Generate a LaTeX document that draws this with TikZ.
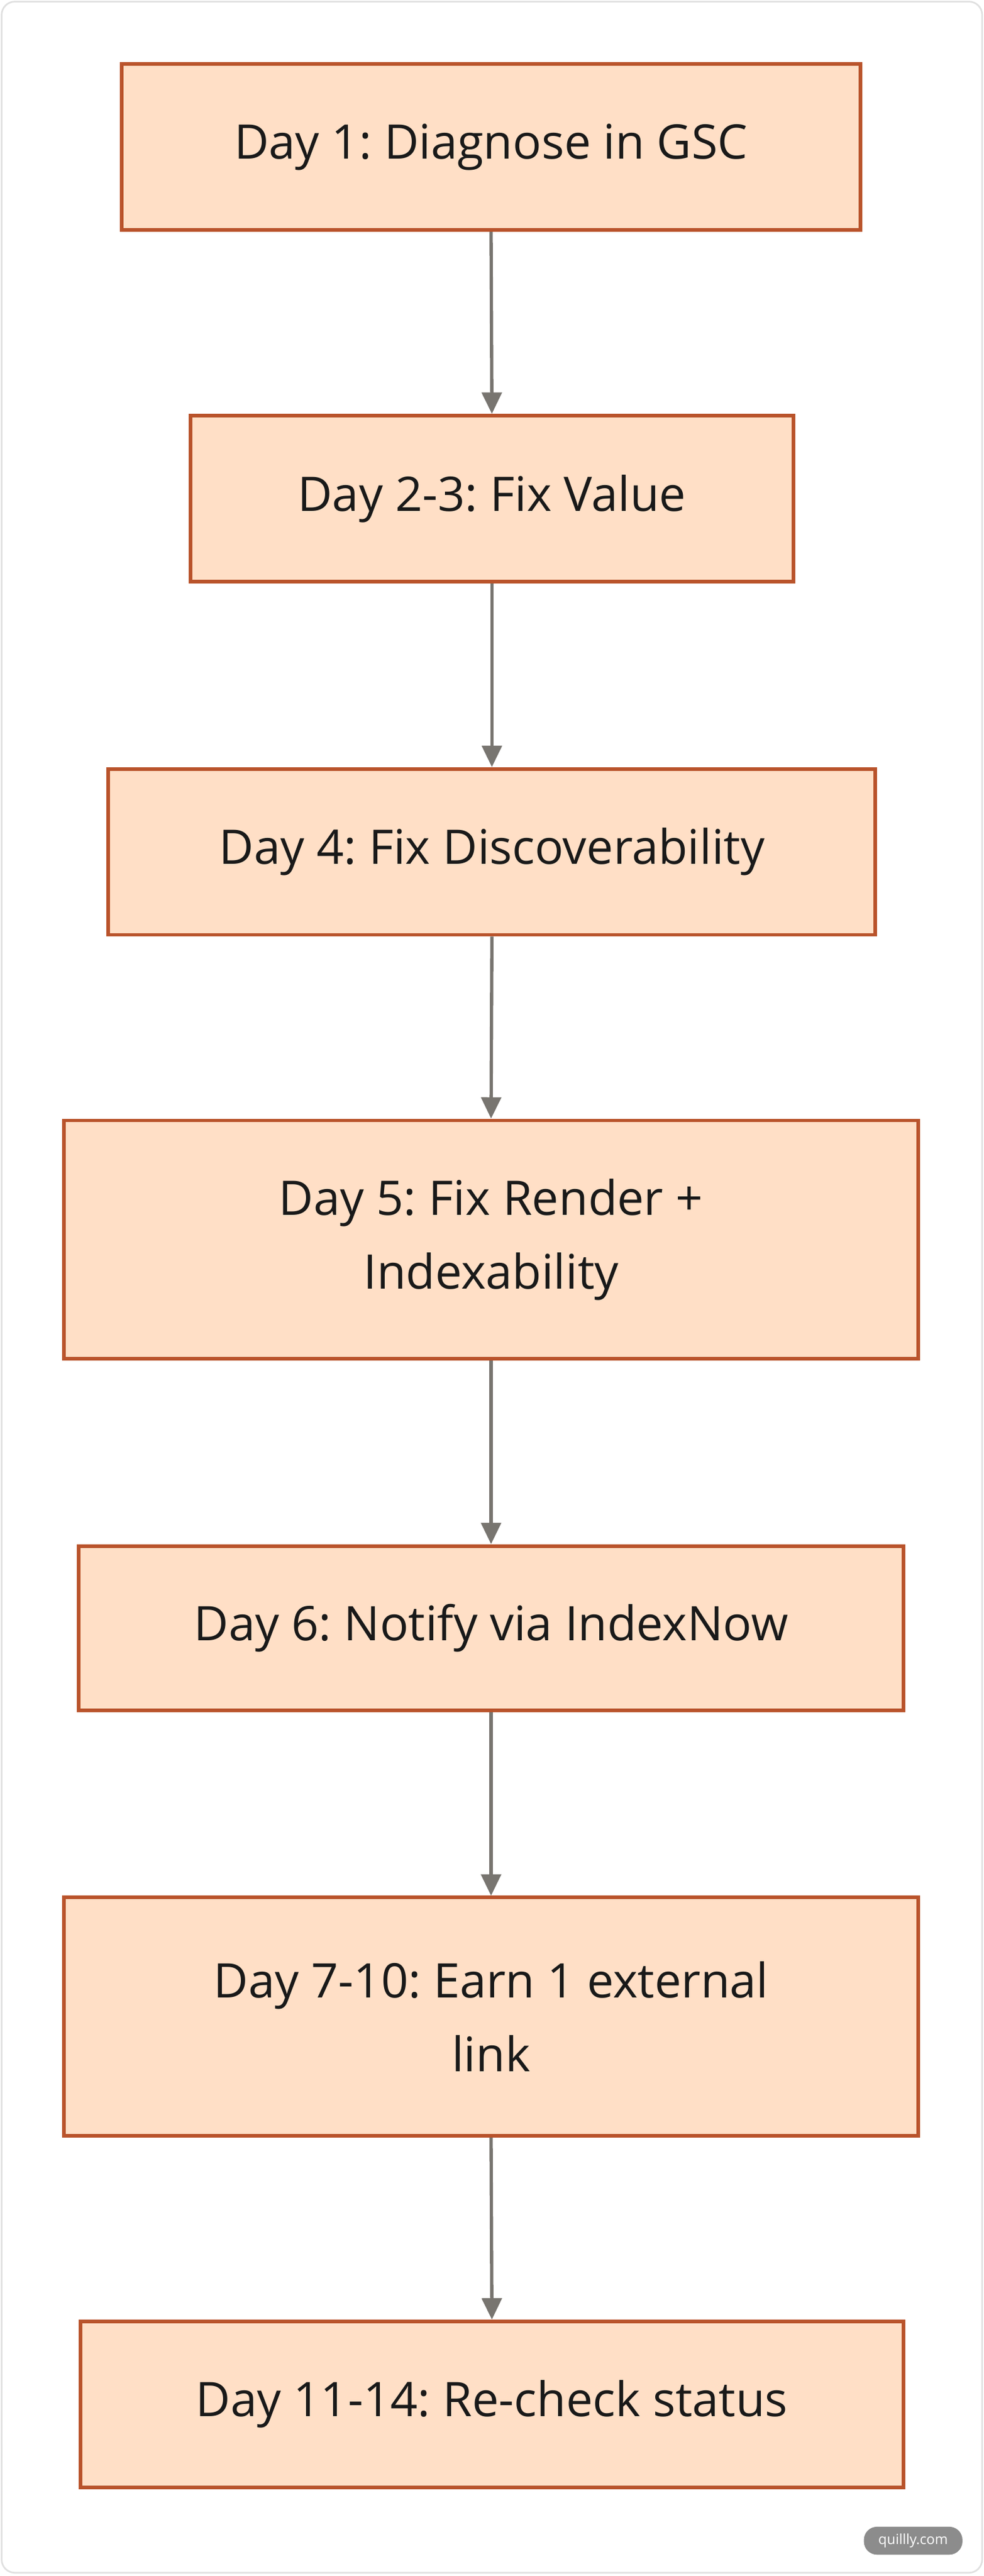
\documentclass[tikz,border=0pt]{standalone}
\usepackage{fontspec}
\setmainfont{Open Sans}
\usetikzlibrary{arrows.meta}
\definecolor{boxfill}{HTML}{FFDFC6}
\definecolor{boxline}{HTML}{B9532B}
\definecolor{arr}{HTML}{787570}
\begin{document}
\frenchspacing
\begin{tikzpicture}[x=1pt,y=-1pt,
  box/.style={draw=boxline,fill=boxfill,line width=2.2pt,align=center,
    font=\fontsize{29}{45}\selectfont,text=black!90,inner sep=0pt},
  conn/.style={draw=arr,line width=2pt,-{Triangle[length=13pt,width=12pt]}}]
\useasboundingbox (0,0) rectangle (599,1568);
\draw[draw=black!12,line width=1pt,rounded corners=8pt,fill=white] (1,1) rectangle (598,1566);
\node[box,minimum width=450pt,minimum height=101pt] (n1) at (299,89.5) {Day 1: Diagnose in GSC};
\node[box,minimum width=367pt,minimum height=101pt] (n2) at (299.5,303.5) {Day 2-3: Fix Value};
\node[box,minimum width=467pt,minimum height=101pt] (n3) at (299.5,518.5) {Day 4: Fix Discoverability};
\node[box,minimum width=520pt,minimum height=145pt] (n4) at (299,754.5) {Day 5: Fix Render +\\Indexability};
\node[box,minimum width=502pt,minimum height=100pt] (n5) at (299,991) {Day 6: Notify via IndexNow};
\node[box,minimum width=520pt,minimum height=145pt] (n6) at (299,1227.5) {Day 7-10: Earn 1 external\\link};
\node[box,minimum width=501pt,minimum height=101pt] (n7) at (299.5,1463.5) {Day 11-14: Re-check status};
\foreach \a/\b in {n1/n2,n2/n3,n3/n4,n4/n5,n5/n6,n6/n7}
  \draw[conn] (\a.south) -- (\b.north);
\node[fill=black!45,rounded corners=8pt,minimum width=60pt,minimum height=17pt,inner sep=0pt,
  text=white,font=\fontsize{8.5}{9}\selectfont] (wm) at (556,1546.5) {quillly.com};
\end{tikzpicture}
\end{document}
